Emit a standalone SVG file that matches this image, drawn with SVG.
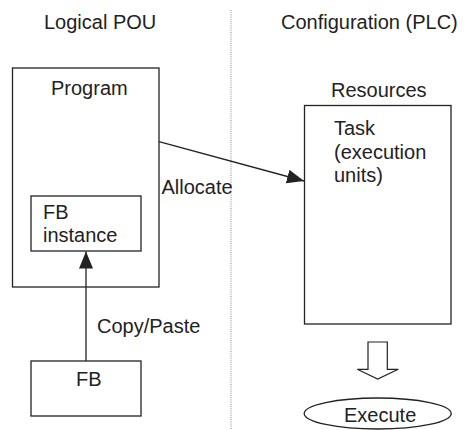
<svg xmlns="http://www.w3.org/2000/svg" width="468" height="430" viewBox="0 0 468 430">
  <defs>
    <style>
      .box { fill: #fff; stroke: #222; stroke-width: 1.3; }
      .t { font-family: "Liberation Sans", Arial, sans-serif; font-size: 20px; fill: #222; }
      .conn { stroke: #222; stroke-width: 1.3; fill: none; }
    </style>
    <marker id="ah" viewBox="0 0 17 14" refX="17" refY="7" markerWidth="17" markerHeight="14" markerUnits="userSpaceOnUse" orient="auto">
      <path d="M0,0 L17,7 L0,14 Z" fill="#222"/>
    </marker>
  </defs>

  <rect width="468" height="430" fill="#fff"/>

  <line x1="231" y1="10" x2="231" y2="430" stroke="#888" stroke-width="1" stroke-dasharray="1,1.2"/>

  <text class="t" x="44" y="29">Logical POU</text>
  <text class="t" x="281" y="29">Configuration (PLC)</text>

  <g id="program">
    <rect class="box" x="12.5" y="68" width="146.5" height="219"/>
    <text class="t" x="51" y="95">Program</text>
  </g>

  <g id="fb-instance">
    <rect class="box" x="31" y="196" width="110" height="55"/>
    <text class="t" x="43" y="219">FB</text>
    <text class="t" x="43" y="242">instance</text>
  </g>

  <g id="fb">
    <rect class="box" x="31" y="361" width="110" height="55"/>
    <text class="t" x="76" y="386">FB</text>
  </g>

  <g id="resources">
    <text class="t" x="331" y="97">Resources</text>
    <rect class="box" x="304.5" y="105.5" width="146.5" height="218.5"/>
    <text class="t" x="334" y="135">Task</text>
    <text class="t" x="334" y="158.5">(execution</text>
    <text class="t" x="334" y="182">units)</text>
  </g>

  <g id="execute">
    <polygon points="368,342 387.3,342 387.3,369.3 398.3,369.3 377.7,379 357.3,369.3 368,369.3" fill="#fff" stroke="#222" stroke-width="1.2"/>
    <ellipse cx="377.7" cy="413.5" rx="73.5" ry="15.5" fill="#fff" stroke="#222" stroke-width="1.3"/>
    <text class="t" x="344" y="421.5">Execute</text>
  </g>

  <g id="connectors">
    <line class="conn" x1="159" y1="141.7" x2="304" y2="181" marker-end="url(#ah)"/>
    <text class="t" x="161.5" y="194">Allocate</text>
    <line class="conn" x1="86" y1="361" x2="86" y2="251.5" marker-end="url(#ah)"/>
    <text class="t" x="97" y="333">Copy/Paste</text>
  </g>
</svg>
